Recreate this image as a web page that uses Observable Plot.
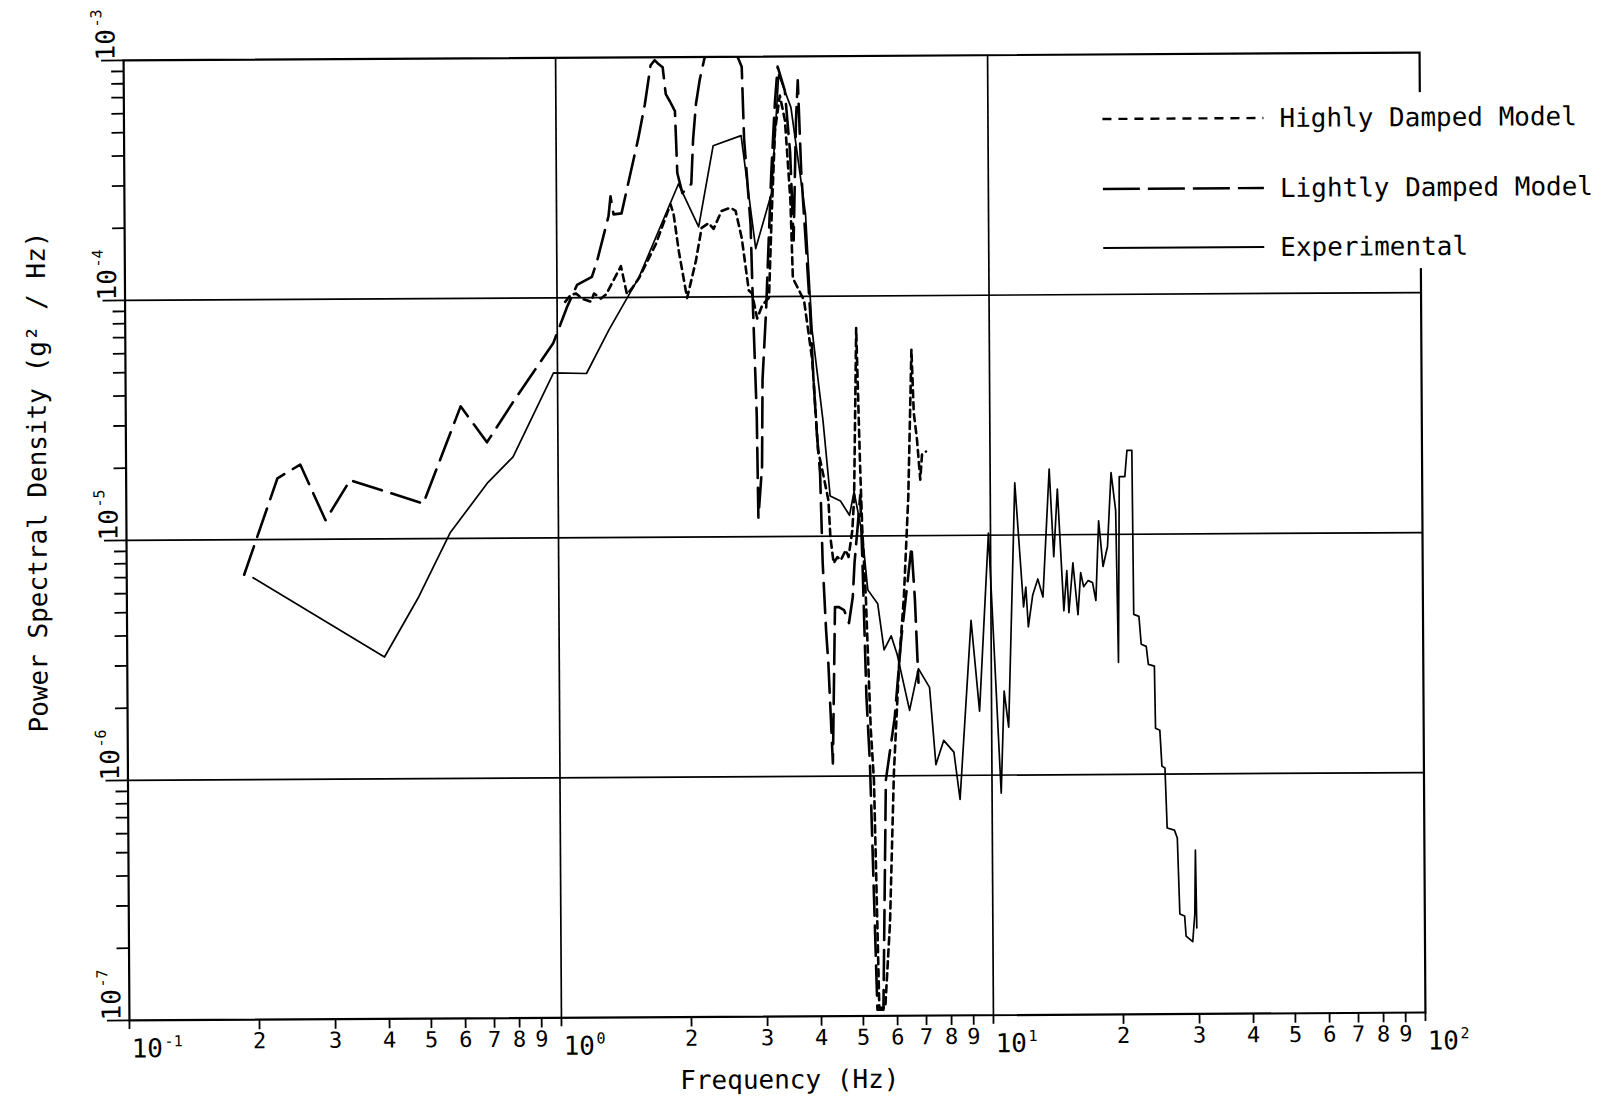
<!DOCTYPE html>
<html>
<head>
<meta charset="utf-8">
<script src="https://cdn.jsdelivr.net/npm/d3@7"></script>
<script src="https://cdn.jsdelivr.net/npm/@observablehq/plot@0.6"></script>
<style>
  html, body { margin: 0; padding: 0; background: #fff; }
  #chart svg { display: block; transform: rotate(-0.35deg); transform-origin: 774px 536px; }
</style>
</head>
<body>
<div id="chart"></div>
<script>
const FONT = "DejaVu Sans Mono";

// Experimental PSD (Hz, g^2/Hz)
const expFreq = [
  0.196, 0.394, 0.474, 0.562, 0.688, 0.787, 0.979, 1.167, 1.319, 1.548,
  1.917, 2.132, 2.309, 2.681, 2.888, 3.146, 3.283, 3.50, 3.77, 3.89,
  4.11, 4.26, 4.50, 4.72, 4.84, 5.05, 5.19, 5.47, 5.65, 5.87,
  6.06, 6.46, 6.78, 7.19, 7.42, 7.74, 8.17, 8.43, 8.99, 9.38,
  9.89, 10.5, 10.7, 10.95, 11.4, 11.9, 12.05, 12.2, 12.5, 12.85,
  13.2, 13.7, 14.0, 14.3, 14.75, 15.0, 15.15, 15.5, 15.9, 16.15,
  16.4, 16.8, 17.2, 17.5, 17.8, 18.2, 18.65, 19.05, 19.5, 19.7,
  19.9, 20.5, 20.75, 21.3, 21.4, 22.0, 22.25, 22.85, 23.1, 23.85,
  23.95, 24.5, 24.75, 25.15, 25.4, 26.4, 26.8, 27.1, 27.8, 28.0,
  29.0, 29.35, 29.5, 29.65
];
const expPsd = [
  6.94e-6, 3.22e-6, 5.73e-6, 1.06e-5, 1.71e-5, 2.18e-5, 4.87e-5, 4.83e-5, 7.36e-5, 1.21e-4,
  2.96e-4, 1.96e-4, 4.26e-4, 4.69e-4, 1.585e-4, 2.69e-4, 8.41e-4, 6.13e-4, 2.20e-4, 7.22e-5,
  3.04e-5, 1.47e-5, 1.40e-5, 1.22e-5, 1.53e-5, 1.01e-5, 5.96e-6, 5.21e-6, 3.35e-6, 3.83e-6,
  3.19e-6, 1.87e-6, 2.79e-6, 2.33e-6, 1.11e-6, 1.40e-6, 1.25e-6, 7.94e-7, 4.42e-6, 1.85e-6,
  1.02e-5, 8.41e-7, 2.24e-6, 1.585e-6, 1.65e-5, 5.01e-6, 6.07e-6, 4.14e-6, 5.62e-6, 6.55e-6,
  5.51e-6, 1.88e-5, 8.10e-6, 1.55e-5, 4.82e-6, 7.08e-6, 4.73e-6, 7.64e-6, 4.64e-6, 6.94e-6,
  6.07e-6, 6.43e-6, 6.31e-6, 5.31e-6, 1.14e-5, 7.36e-6, 8.91e-6, 1.81e-5, 1.26e-5, 2.93e-6,
  1.74e-5, 1.74e-5, 2.24e-5, 2.24e-5, 4.64e-6, 4.55e-6, 3.48e-6, 3.41e-6, 2.87e-6, 2.82e-6,
  1.555e-6, 1.525e-6, 1.08e-6, 1.06e-6, 5.96e-7, 5.84e-7, 5.41e-7, 2.61e-7, 2.56e-7, 2.11e-7,
  2.0e-7, 2.61e-7, 4.82e-7, 2.28e-7
];

// Lightly damped model
const lightFreq = [
  0.187, 0.224, 0.253, 0.289, 0.330, 0.487, 0.596, 0.685, 0.791, 0.979,
  1.055, 1.113, 1.205, 1.238, 1.319, 1.334, 1.355, 1.414, 1.452, 1.548,
  1.607, 1.659, 1.695, 1.722, 1.769, 1.797, 1.836, 1.886, 1.906, 1.957,
  2.053, 2.076, 2.11, 2.154, 2.212, 2.44, 2.696, 2.724, 2.812, 2.842,
  2.888, 2.904, 2.966, 2.982, 3.046, 3.095, 3.146, 3.213, 3.265, 3.389,
  3.48, 3.536, 3.594, 3.633, 3.69, 3.77, 3.85, 3.913, 3.976, 4.04,
  4.085, 4.15, 4.196, 4.285, 4.33, 4.355, 4.45, 4.57, 4.69, 4.79,
  4.84, 4.92, 5.00, 5.05, 5.135, 5.22, 5.39, 5.565, 5.68, 5.965,
  6.19, 6.56, 6.67, 6.78
];
const lightPsd = [
  7.15e-6, 1.80e-5, 2.05e-5, 1.20e-5, 1.76e-5, 1.40e-5, 3.55e-5, 2.51e-5, 3.72e-5, 6.49e-5,
  9.17e-5, 1.13e-4, 1.22e-4, 1.41e-4, 2.18e-4, 2.64e-4, 2.22e-4, 2.24e-4, 2.76e-4, 4.55e-4,
  6.37e-4, 9.26e-4, 9.72e-4, 9.44e-4, 9.08e-4, 7.01e-4, 6.55e-4, 5.96e-4, 3.29e-4, 2.71e-4,
  2.96e-4, 4.55e-4, 6.37e-4, 8.02e-4, 9.90e-4, 1.41e-3, 9.08e-4, 4.55e-4, 2.0e-4, 8.74e-5,
  3.22e-5, 1.20e-5, 1.96e-5, 4.51e-5, 8.74e-5, 1.70e-4, 3.29e-4, 6.37e-4, 9.08e-4, 7.22e-4,
  3.98e-4, 1.71e-4, 5.41e-4, 7.94e-4, 3.29e-4, 1.70e-4, 8.74e-5, 4.51e-5, 2.69e-5, 1.83e-5,
  7.72e-6, 4.06e-6, 2.96e-6, 1.13e-6, 2.96e-6, 5.06e-6, 5.06e-6, 4.92e-6, 4.34e-6, 5.57e-6,
  7.72e-6, 1.06e-5, 1.48e-5, 7.72e-6, 2.13e-6, 1.13e-6, 1.06e-7, 1.06e-7, 9.62e-7, 1.74e-6,
  3.69e-6, 9.0e-6, 5.41e-6, 2.44e-6
];

// Highly damped model
const highFreq = [
  1.044, 1.077, 1.107, 1.143, 1.198, 1.218, 1.264, 1.299, 1.407, 1.452,
  1.491, 1.548, 1.695, 1.836, 1.866, 1.917, 2.0, 2.098, 2.166, 2.249,
  2.309, 2.41, 2.528, 2.597, 2.681, 2.78, 2.828, 2.904, 2.982, 3.095,
  3.146, 3.213, 3.30, 3.389, 3.48, 3.517, 3.73, 3.89, 4.0, 4.11,
  4.22, 4.26, 4.33, 4.42, 4.50, 4.62, 4.69, 4.79, 4.84, 4.92,
  5.00, 5.05, 5.135, 5.19, 5.25, 5.33, 5.445, 5.62, 5.78, 5.93,
  6.12, 6.29, 6.46, 6.60, 6.67, 6.78, 6.89, 6.96, 7.11
];
const highPsd = [
  9.62e-5, 1.03e-4, 1.04e-4, 9.9e-5, 9.62e-5, 1.04e-4, 9.9e-5, 1.03e-4, 1.35e-4, 1.03e-4,
  1.09e-4, 1.20e-4, 1.66e-4, 2.44e-4, 2.22e-4, 1.55e-4, 9.9e-5, 1.41e-4, 1.94e-4, 2.03e-4,
  1.92e-4, 2.28e-4, 2.35e-4, 2.28e-4, 1.76e-4, 1.06e-4, 1.03e-4, 8.1e-5, 9.17e-5, 9.9e-5,
  2.13e-4, 4.92e-4, 6.88e-4, 5.41e-4, 2.51e-4, 1.19e-4, 9.62e-5, 5.41e-5, 2.28e-5, 1.80e-5,
  1.41e-5, 9.9e-6, 7.72e-6, 8.18e-6, 7.94e-6, 8.74e-6, 8.18e-6, 1.06e-5, 1.45e-5, 7.36e-5,
  2.01e-5, 1.06e-5, 5.57e-6, 2.96e-6, 1.555e-6, 9.62e-7, 1.08e-7, 1.08e-7, 2.44e-7, 1.03e-6,
  2.96e-6, 5.57e-6, 1.45e-5, 5.96e-5, 3.25e-5, 2.51e-5, 1.71e-5, 2.18e-5, 2.24e-5
];

// Axis ticks and labels
const xDecades = [0.1, 1, 10, 100];
const xDecadeExponents = ["-1", "0", "1", "2"];
const yDecades = [1e-3, 1e-4, 1e-5, 1e-6, 1e-7];
const yDecadeExponents = ["-3", "-4", "-5", "-6", "-7"];
const minorDigits = [2, 3, 4, 5, 6, 7, 8, 9];
const xGrid = [1, 10];
const yGrid = [1e-4, 1e-5, 1e-6];

// Legend entries
const legendLabels = ["Highly Damped Model", "Lightly Damped Model", "Experimental"];

const toRows = (fs, ps) => fs.map((f, i) => ({f, p: ps[i]}));
const experimental = toRows(expFreq, expPsd);
const lightly = toRows(lightFreq, lightPsd);
const highly = toRows(highFreq, highPsd);

const xMinorRows = xDecades.slice(0, -1).flatMap(d => minorDigits.map(m => ({v: m * d, label: String(m)})));
const xMinor = xMinorRows.map(r => r.v);
const yMinor = yDecades.slice(1).flatMap(d => minorDigits.map(m => m * d));
const xDecadeRows = xDecades.map((v, i) => ({v, e: xDecadeExponents[i]}));
const yDecadeRows = yDecades.map((v, i) => ({v, e: yDecadeExponents[i]}));

const svg = Plot.plot({
  width: 1609,
  height: 1099,
  marginLeft: 126,
  marginRight: 187,
  marginTop: 56,
  marginBottom: 83,
  style: {fontFamily: FONT, background: "white", color: "black"},
  x: {type: "log", domain: [0.1, 100]},
  y: {type: "log", domain: [1e-7, 1e-3]},
  marks: [
    Plot.ruleX(xGrid, {stroke: "black", strokeWidth: 1.7}),
    Plot.ruleY(yGrid, {stroke: "black", strokeWidth: 1.7}),
    // tick marks (labels drawn separately)
    Plot.axisX(xMinor, {anchor: "bottom", tickSize: 10, strokeWidth: 1.8, tickFormat: () => "", label: null}),
    Plot.axisX(xDecades, {anchor: "bottom", tickSize: 9, strokeWidth: 1.8, tickFormat: () => "", label: null}),
    Plot.axisY(yMinor, {anchor: "left", tickSize: 12, strokeWidth: 1.8, tickFormat: () => "", label: null}),
    Plot.axisY(yDecades, {anchor: "left", tickSize: 22, strokeWidth: 1.8, tickFormat: () => "", label: null}),

    // minor digit labels, x axis
    Plot.text(xMinorRows, {x: "v", frameAnchor: "bottom", text: "label",
      lineAnchor: "top", dy: 13, fontSize: 22}),
    // decade labels, x axis
    Plot.text(xDecadeRows, {x: "v", frameAnchor: "bottom", text: () => "10",
      textAnchor: "start", lineAnchor: "bottom", dx: 2, dy: 37, fontSize: 26}),
    Plot.text(xDecadeRows, {x: "v", frameAnchor: "bottom", text: "e",
      textAnchor: "start", lineAnchor: "bottom", dx: 35, dy: 26, fontSize: 15}),
    // decade labels, y axis (rotated)
    Plot.text(yDecadeRows, {y: "v", frameAnchor: "left", text: () => "10", rotate: -90,
      textAnchor: "start", lineAnchor: "bottom", dx: -9, dy: 0, fontSize: 26}),
    Plot.text(yDecadeRows, {y: "v", frameAnchor: "left", text: "e", rotate: -90,
      textAnchor: "start", lineAnchor: "bottom", dx: -22, dy: -33, fontSize: 15}),

    // axis titles
    Plot.text(["Frequency (Hz)"], {frameAnchor: "bottom", dx: 12, dy: 72, lineAnchor: "bottom", fontSize: 26}),
    Plot.text(["Power Spectral Density (g² / Hz)"], {frameAnchor: "left", dx: -80, dy: -59,
      rotate: -90, textAnchor: "middle", lineAnchor: "bottom", fontSize: 26}),

    // spectra
    Plot.line(lightly, {x: "f", y: "p", stroke: "black", strokeWidth: 2.6, strokeDasharray: "30,10", clip: true}),
    Plot.line(highly, {x: "f", y: "p", stroke: "black", strokeWidth: 2.6, strokeDasharray: "7,5", clip: true}),
    Plot.line(experimental, {x: "f", y: "p", stroke: "black", strokeWidth: 1.7, clip: true}),

    Plot.frame({stroke: "black", strokeWidth: 2.2})
  ]
});

// legend box in the upper right, over the frame edge
const legendStyles = [
  {dash: "9,7", width: 2.4},
  {dash: "37,8", width: 2.4},
  {dash: null, width: 2}
];
const legendY = [121, 191, 250];
const lg = d3.select(svg).append("g")
  .attr("font-family", FONT).attr("font-size", 26).attr("text-anchor", "start");
lg.append("rect").attr("x", 1092).attr("y", 96).attr("width", 510).attr("height", 176).attr("fill", "white");
legendLabels.forEach((label, i) => {
  const ln = lg.append("line")
    .attr("x1", 1105).attr("x2", 1266)
    .attr("y1", legendY[i]).attr("y2", legendY[i])
    .attr("stroke", "black").attr("stroke-width", legendStyles[i].width);
  if (legendStyles[i].dash) ln.attr("stroke-dasharray", legendStyles[i].dash);
  lg.append("text").attr("x", 1282).attr("y", legendY[i] + 9)
    .attr("text-anchor", "start").attr("fill", "black").text(label);
});

document.getElementById("chart").append(svg);
</script>
</body>
</html>
